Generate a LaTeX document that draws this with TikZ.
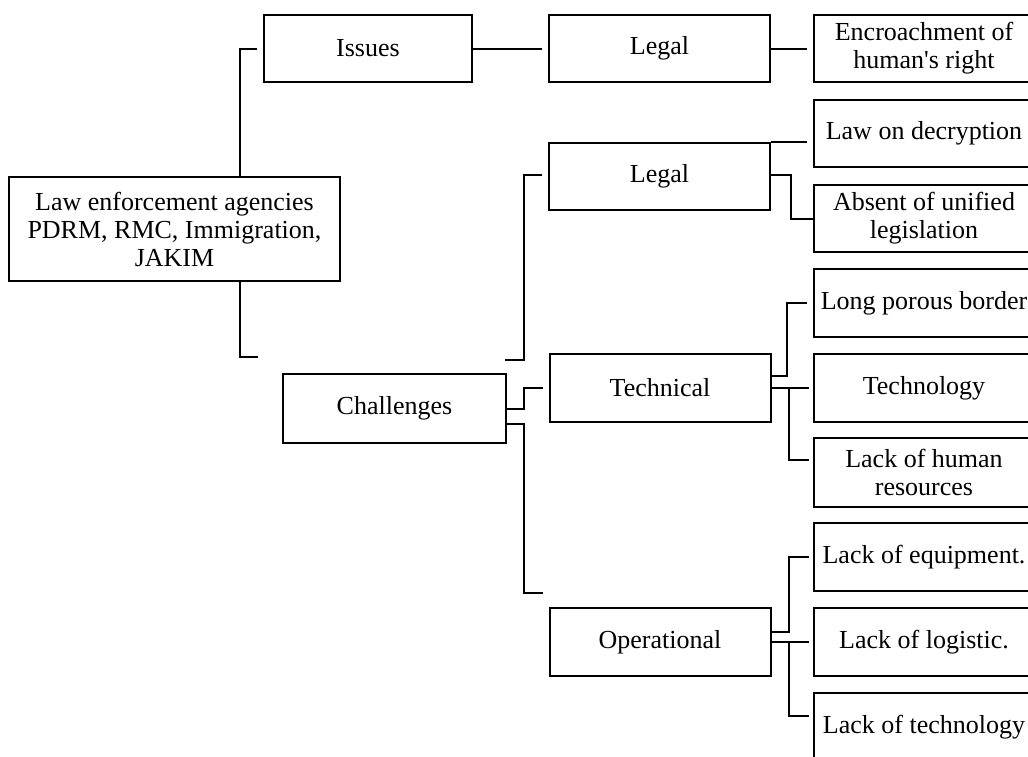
\documentclass[tikz,border=0pt]{standalone}
\usepackage{fontspec}
\setmainfont{Liberation Serif}[Ligatures=TeXOff]
\usetikzlibrary{calc}
\begin{document}
\begin{tikzpicture}[x=1pt,y=-1pt,
  box/.style={draw, line width=2pt, rectangle, inner sep=0pt, align=center,
    font=\fontsize{26}{28}\selectfont, minimum width=221pt, minimum height=67pt},
  link/.style={line width=2pt}]
\useasboundingbox (0,0) rectangle (1028,756);
\clip (0,0) rectangle (1028,756);
% level 0
\node[box, minimum width=331pt, minimum height=104pt] (root) at (174.5,229) {Law enforcement agencies\\PDRM, RMC, Immigration,\\JAKIM};
% level 1
\node[box, minimum width=208pt] (issues) at (368,48.5) {Issues};
\node[box, minimum width=223pt, minimum height=69pt] (chal) at (394.5,408.5) {Challenges};
% level 2
\node[box] (legalA) at (659.5,48.5) {Legal};
\node[box] (legalB) at (659.5,176.5) {Legal};
\node[box, minimum height=68pt] (tech) at (660,388) {Technical};
\node[box, minimum height=68pt] (oper) at (660,642) {Operational};
% level 3
\node[box] (enc) at (924,48.5) {Encroachment of\\human's right};
\node[box] (dec) at (924,133.5) {Law on decryption};
\node[box] (uni) at (924,218.5) {Absent of unified\\legislation};
\node[box, minimum height=68pt] (bor) at (924,303) {Long porous border};
\node[box, minimum height=68pt] (tgy) at (924,388) {Technology};
\node[box, minimum height=69pt] (hum) at (924,472.5) {Lack of human\\resources};
\node[box, minimum height=68pt] (equ) at (924,557) {Lack of equipment.};
\node[box, minimum height=68pt] (log) at (924,642) {Lack of logistic.};
\node[box, minimum height=68pt] (tcl) at (924,727) {Lack of technology};
% free ends
\coordinate (rootEnd) at (258,357);
\coordinate (legStart) at (505,360);
\coordinate (operEnd) at (543,593);
% connectors
\draw[link] (root.north -| 240,0) |- ($(issues.west)+(-6,0)$);
\draw[link] (root.south -| 240,0) |- (rootEnd);
\draw[link] (issues.east) -- ($(legalA.west)+(-6,0)$);
\draw[link] (legalA.east) -- ($(enc.west)+(-6,0)$);
\draw[link] (legStart) -| (524,175) -- ($(legalB.west)+(-6,-1.5)$);
\draw[link] ($(chal.east)+(0,0.5)$) -| (524,388) -- ($(tech.west)+(-6,0)$);
\draw[link] ($(chal.east)+(0,15.5)$) -| (524,593) -- (operEnd);
\draw[link] (legalB.north east) -- ($(dec.west |- legalB.north)+(-6,0)$);
\draw[link] ($(legalB.east)+(0,-1.5)$) -| (791,218.5) -- (uni.west);
\draw[link] ($(tech.east)+(0,-12)$) -| (787,303) -- ($(bor.west)+(-6,0)$);
\draw[link] (tech.east) -- ($(tgy.west)+(-4,0)$);
\draw[link] (789,388) |- ($(hum.west)+(-4,-12.5)$);
\draw[link] ($(oper.east)+(0,-10)$) -| (789,557) -- ($(equ.west)+(-4,0)$);
\draw[link] (oper.east) -- ($(log.west)+(-4,0)$);
\draw[link] (789,642) |- ($(tcl.west)+(-4,-11)$);
\end{tikzpicture}
\end{document}
